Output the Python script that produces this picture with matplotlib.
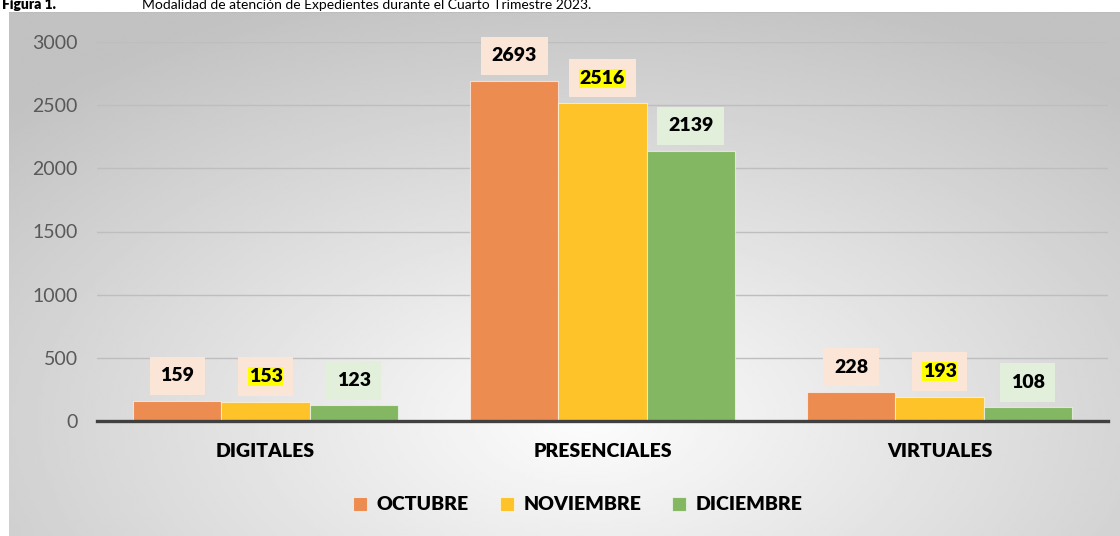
import numpy as np
import matplotlib
matplotlib.use('Agg')
import matplotlib.pyplot as plt

categories = ['DIGITALES', 'PRESENCIALES', 'VIRTUALES']
months = ['OCTUBRE', 'NOVIEMBRE', 'DICIEMBRE']
octubre = [159, 2693, 228]
noviembre = [153, 2516, 193]
diciembre = [123, 2139, 108]
yticks = [0, 500, 1000, 1500, 2000, 2500, 3000]

bar_colors = ['#ED8C50', '#FEC328', '#84B762']
label_bg = ['#FBE5D6', '#FBE5D6', '#E2EFDA']

plt.rcParams['font.family'] = ['Lato', 'DejaVu Sans']

fig = plt.figure(figsize=(11.2, 5.36), dpi=100)
fig.patch.set_facecolor('white')

# gray radial gradient behind the chart
bg = fig.add_axes([9 / 1120, 0, 1 - 9 / 1120, (536 - 12) / 536])
gx, gy = np.meshgrid(np.linspace(0, 1, 400), np.linspace(0, 1, 200))
r = np.sqrt(((gx - 0.52) / 0.75) ** 2 + ((gy - 0.78) / 0.9) ** 2)
shade = np.clip(0.99 - 0.24 * r, 0.76, 0.99)
bg.imshow(shade, cmap='gray', vmin=0, vmax=1, aspect='auto',
          extent=[0, 1, 0, 1], origin='upper', interpolation='bilinear')
bg.set_axis_off()
bg.plot([0, 1], [1, 1], color='#BDBDBD', lw=1.5, transform=bg.transAxes)

fig.text(0.002, 1 - 9 / 536, 'Figura 1.', fontsize=10, fontweight='heavy',
         va='baseline', ha='left')
fig.text(142 / 1120, 1 - 9 / 536,
         'Modalidad de atención de Expedientes durante el Cuarto Trimestre 2023.',
         fontsize=10, va='baseline', ha='left')

ax = fig.add_axes([97 / 1120, (536 - 421) / 536, 1011 / 1120, 379 / 536])
ax.patch.set_alpha(0)

x = np.arange(len(categories))
w = 0.262
series = [octubre, noviembre, diciembre]
for i, (vals, name) in enumerate(zip(series, months)):
    pos = x + (i - 1) * w
    ax.bar(pos, vals, width=w, color=bar_colors[i], edgecolor=(1, 1, 1, 0.6),
           linewidth=0.8, label=name, zorder=3)
    for px, v in zip(pos, vals):
        ax.annotate(str(v), (px, v), xytext=(0, 18), textcoords='offset points',
                    ha='center', va='center', fontsize=14, fontweight='heavy',
                    bbox=dict(boxstyle='square,pad=0.55', fc=label_bg[i], ec='none'),
                    zorder=5)
        if i == 1:
            ax.annotate(str(v), (px, v), xytext=(0, 18), textcoords='offset points',
                        ha='center', va='center', fontsize=14, fontweight='heavy',
                        bbox=dict(boxstyle='square,pad=0.05', fc='#FFFF00', ec='none'),
                        zorder=6)

ax.set_xlim(-0.5, 2.5)
ax.set_ylim(0, 3000)
ax.set_yticks(yticks)
ax.set_xticks(x)
ax.set_xticklabels(categories, fontsize=14, fontweight='heavy')
ax.tick_params(axis='y', length=0, pad=14, labelsize=14, labelcolor='#595959')
ax.tick_params(axis='x', length=0, pad=16)
ax.yaxis.grid(True, color='#BEBEBE', lw=1)
ax.set_axisbelow(True)
for s in ax.spines.values():
    s.set_visible(False)
ax.axhline(0, color='#404040', lw=2.4, zorder=4, clip_on=False)

ax.legend(loc='center', bbox_to_anchor=(578 / 1120, (536 - 505) / 536),
          bbox_transform=fig.transFigure, ncol=3, frameon=False,
          prop={'size': 14, 'weight': 'heavy'}, handlelength=0.7,
          handleheight=0.7, columnspacing=1.6, handletextpad=0.5)

fig.savefig('out.png', dpi=100)
